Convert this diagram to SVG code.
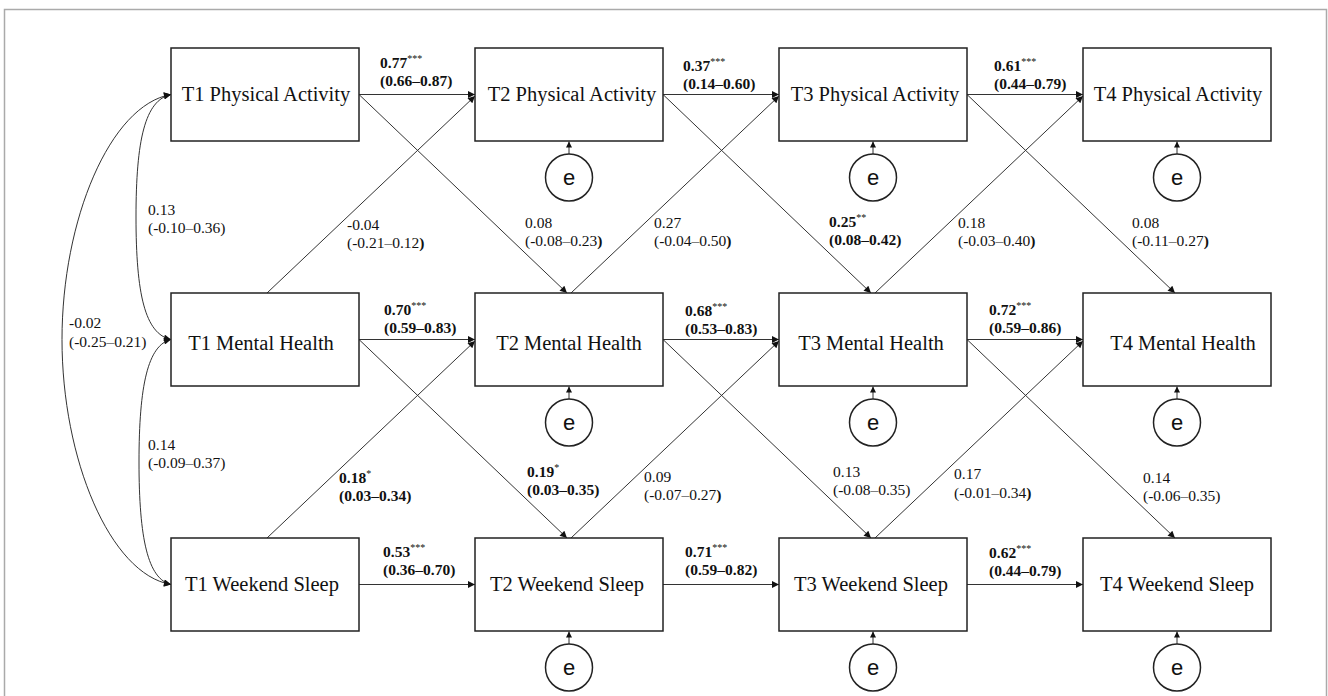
<svg xmlns="http://www.w3.org/2000/svg" width="1328" height="696" viewBox="0 0 1328 696">
<style>
.box{fill:#fff;stroke:#222;stroke-width:1.5}
.bt{font-family:"Liberation Serif","Times New Roman",serif;font-size:20.5px;fill:#111;text-anchor:middle}
.ln{fill:none;stroke:#333;stroke-width:1}
.lb{font-family:"Liberation Serif","Times New Roman",serif;font-size:15.5px;fill:#111}
.b{font-weight:bold}
.st{font-size:10px;font-weight:normal}
.ec{fill:#fff;stroke:#222;stroke-width:1.5}
.et{font-family:"Liberation Sans",Arial,sans-serif;font-size:22px;fill:#111;text-anchor:middle}
</style>
<defs>
<marker id="ah" viewBox="0 0 10 10" refX="10" refY="5" markerWidth="9" markerHeight="7" markerUnits="userSpaceOnUse" orient="auto-start-reverse">
<path d="M0,0 L10,5 L0,10 z" fill="#111"/>
</marker>
<marker id="as" viewBox="0 0 10 10" refX="10" refY="5" markerWidth="7" markerHeight="6" markerUnits="userSpaceOnUse" orient="auto">
<path d="M0,0 L10,5 L0,10 z" fill="#111"/>
</marker>
</defs>
<rect width="1328" height="696" fill="#fff"/>
<path d="M4.5,700 V9.5 H1326.5 V700" fill="none" stroke="#aaa" stroke-width="1.5"/>

<g id="connectors">
<!-- covariances -->
<path class="ln" d="M171,94.5 C145,100 136,140 136,217 C136,294 145,334 171,339.5" marker-start="url(#ah)" marker-end="url(#ah)"/>
<path class="ln" d="M171,339.5 C148,345 139,385 139,462 C139,539 148,579 171,584.5" marker-start="url(#ah)" marker-end="url(#ah)"/>
<path class="ln" d="M171,94.5 C110,105 62,220 62,339.5 C62,459 110,574 171,584.5" marker-start="url(#ah)" marker-end="url(#ah)"/>
<!-- horizontals -->
<path class="ln" d="M359,94.5 H475" marker-end="url(#ah)"/>
<path class="ln" d="M663,94.5 H779" marker-end="url(#ah)"/>
<path class="ln" d="M967,94.5 H1083" marker-end="url(#ah)"/>
<path class="ln" d="M359,339.5 H475" marker-end="url(#ah)"/>
<path class="ln" d="M663,339.5 H779" marker-end="url(#ah)"/>
<path class="ln" d="M967,339.5 H1083" marker-end="url(#ah)"/>
<path class="ln" d="M359,584.5 H475" marker-end="url(#ah)"/>
<path class="ln" d="M663,584.5 H779" marker-end="url(#ah)"/>
<path class="ln" d="M967,584.5 H1083" marker-end="url(#ah)"/>
<!-- cross-lagged -->
<path class="ln" d="M359,94.5 L567,293" marker-end="url(#ah)"/>
<path class="ln" d="M663,94.5 L871,293" marker-end="url(#ah)"/>
<path class="ln" d="M967,94.5 L1175,293" marker-end="url(#ah)"/>
<path class="ln" d="M267,293 L475,96" marker-end="url(#ah)"/>
<path class="ln" d="M571,293 L779,96" marker-end="url(#ah)"/>
<path class="ln" d="M875,293 L1083,96" marker-end="url(#ah)"/>
<path class="ln" d="M359,339.5 L567,538" marker-end="url(#ah)"/>
<path class="ln" d="M663,339.5 L871,538" marker-end="url(#ah)"/>
<path class="ln" d="M967,339.5 L1175,538" marker-end="url(#ah)"/>
<path class="ln" d="M267,538 L475,341" marker-end="url(#ah)"/>
<path class="ln" d="M571,538 L779,341" marker-end="url(#ah)"/>
<path class="ln" d="M875,538 L1083,341" marker-end="url(#ah)"/>
<!-- residual arrows -->
<path class="ln" d="M569,154 V141.5" marker-end="url(#as)"/>
<path class="ln" d="M873,154 V141.5" marker-end="url(#as)"/>
<path class="ln" d="M1177,154 V141.5" marker-end="url(#as)"/>
<path class="ln" d="M569,399 V386.5" marker-end="url(#as)"/>
<path class="ln" d="M873,399 V386.5" marker-end="url(#as)"/>
<path class="ln" d="M1177,399 V386.5" marker-end="url(#as)"/>
<path class="ln" d="M569,644 V631.5" marker-end="url(#as)"/>
<path class="ln" d="M873,644 V631.5" marker-end="url(#as)"/>
<path class="ln" d="M1177,644 V631.5" marker-end="url(#as)"/>
</g>

<g id="labels">
<text class="lb b" x="380" y="68">0.77<tspan class="st" dy="-6">***</tspan></text>
<text class="lb b" x="380" y="86">(0.66–0.87)</text>
<text class="lb b" x="683" y="71">0.37<tspan class="st" dy="-6">***</tspan></text>
<text class="lb b" x="683" y="89">(0.14–0.60)</text>
<text class="lb b" x="994" y="71">0.61<tspan class="st" dy="-6">***</tspan></text>
<text class="lb b" x="994" y="89">(0.44–0.79)</text>

<text class="lb b" x="384" y="315">0.70<tspan class="st" dy="-6">***</tspan></text>
<text class="lb b" x="384" y="333">(0.59–0.83)</text>
<text class="lb b" x="685" y="316">0.68<tspan class="st" dy="-6">***</tspan></text>
<text class="lb b" x="685" y="334">(0.53–0.83)</text>
<text class="lb b" x="989" y="315">0.72<tspan class="st" dy="-6">***</tspan></text>
<text class="lb b" x="989" y="333">(0.59–0.86)</text>

<text class="lb b" x="383" y="557">0.53<tspan class="st" dy="-6">***</tspan></text>
<text class="lb b" x="383" y="575">(0.36–0.70)</text>
<text class="lb b" x="685" y="557">0.71<tspan class="st" dy="-6">***</tspan></text>
<text class="lb b" x="685" y="575">(0.59–0.82)</text>
<text class="lb b" x="989" y="558">0.62<tspan class="st" dy="-6">***</tspan></text>
<text class="lb b" x="989" y="576">(0.44–0.79)</text>

<text class="lb" x="148" y="215">0.13</text>
<text class="lb" x="148" y="233">(-0.10–0.36)</text>
<text class="lb" x="69" y="328">-0.02</text>
<text class="lb" x="69" y="347">(-0.25–0.21)</text>
<text class="lb" x="148" y="450">0.14</text>
<text class="lb" x="148" y="468">(-0.09–0.37)</text>

<text class="lb" x="347" y="230">-0.04</text>
<text class="lb" x="347" y="248">(-0.21–0.12<tspan class="b">)</tspan></text>
<text class="lb" x="525" y="228">0.08</text>
<text class="lb" x="525" y="246">(-0.08–0.23<tspan class="b">)</tspan></text>
<text class="lb" x="654" y="228">0.27</text>
<text class="lb" x="654" y="246">(-0.04–0.50<tspan class="b">)</tspan></text>
<text class="lb b" x="829" y="227">0.25<tspan class="st" dy="-6">**</tspan></text>
<text class="lb b" x="829" y="245">(0.08–0.42)</text>
<text class="lb" x="958" y="228">0.18</text>
<text class="lb" x="958" y="246">(-0.03–0.40<tspan class="b">)</tspan></text>
<text class="lb" x="1132" y="228">0.08</text>
<text class="lb" x="1132" y="246">(-0.11–0.27<tspan class="b">)</tspan></text>

<text class="lb b" x="339" y="483">0.18<tspan class="st" dy="-6">*</tspan></text>
<text class="lb b" x="339" y="501">(0.03–0.34)</text>
<text class="lb b" x="527" y="477">0.19<tspan class="st" dy="-6">*</tspan></text>
<text class="lb b" x="527" y="495">(0.03–0.35)</text>
<text class="lb" x="644" y="482">0.09</text>
<text class="lb" x="644" y="500">(-0.07–0.27<tspan class="b">)</tspan></text>
<text class="lb" x="833" y="477">0.13</text>
<text class="lb" x="833" y="495">(-0.08–0.35)</text>
<text class="lb" x="954" y="479">0.17</text>
<text class="lb" x="954" y="498">(-0.01–0.34<tspan class="b">)</tspan></text>
<text class="lb" x="1143" y="483">0.14</text>
<text class="lb" x="1143" y="501">(-0.06–0.35)</text>
</g>

<g id="n-t1pa"><rect class="box" x="171" y="48" width="188" height="93"/><text class="bt" x="266" y="101">T1 Physical Activity</text></g>
<g id="n-t2pa"><rect class="box" x="475" y="48" width="188" height="93"/><text class="bt" x="572" y="101">T2 Physical Activity</text></g>
<g id="n-t3pa"><rect class="box" x="779" y="48" width="188" height="93"/><text class="bt" x="875" y="101">T3 Physical Activity</text></g>
<g id="n-t4pa"><rect class="box" x="1083" y="48" width="188" height="93"/><text class="bt" x="1178" y="101">T4 Physical Activity</text></g>

<g id="n-t1mh"><rect class="box" x="171" y="293" width="188" height="93"/><text class="bt" x="261" y="350">T1 Mental Health</text></g>
<g id="n-t2mh"><rect class="box" x="475" y="293" width="188" height="93"/><text class="bt" x="569" y="350">T2 Mental Health</text></g>
<g id="n-t3mh"><rect class="box" x="779" y="293" width="188" height="93"/><text class="bt" x="871" y="350">T3 Mental Health</text></g>
<g id="n-t4mh"><rect class="box" x="1083" y="293" width="188" height="93"/><text class="bt" x="1183" y="350">T4 Mental Health</text></g>

<g id="n-t1ws"><rect class="box" x="171" y="538" width="188" height="93"/><text class="bt" x="262" y="591">T1 Weekend Sleep</text></g>
<g id="n-t2ws"><rect class="box" x="475" y="538" width="188" height="93"/><text class="bt" x="567" y="591">T2 Weekend Sleep</text></g>
<g id="n-t3ws"><rect class="box" x="779" y="538" width="188" height="93"/><text class="bt" x="871" y="591">T3 Weekend Sleep</text></g>
<g id="n-t4ws"><rect class="box" x="1083" y="538" width="188" height="93"/><text class="bt" x="1177" y="591">T4 Weekend Sleep</text></g>

<g id="e-t2pa"><circle class="ec" cx="569" cy="177.5" r="23.5"/><text class="et" x="569" y="185">e</text></g>
<g id="e-t3pa"><circle class="ec" cx="873" cy="177.5" r="23.5"/><text class="et" x="873" y="185">e</text></g>
<g id="e-t4pa"><circle class="ec" cx="1177" cy="177.5" r="23.5"/><text class="et" x="1177" y="185">e</text></g>
<g id="e-t2mh"><circle class="ec" cx="569" cy="422.5" r="23.5"/><text class="et" x="569" y="430">e</text></g>
<g id="e-t3mh"><circle class="ec" cx="873" cy="422.5" r="23.5"/><text class="et" x="873" y="430">e</text></g>
<g id="e-t4mh"><circle class="ec" cx="1177" cy="422.5" r="23.5"/><text class="et" x="1177" y="430">e</text></g>
<g id="e-t2ws"><circle class="ec" cx="569" cy="667.5" r="23.5"/><text class="et" x="569" y="675">e</text></g>
<g id="e-t3ws"><circle class="ec" cx="873" cy="667.5" r="23.5"/><text class="et" x="873" y="675">e</text></g>
<g id="e-t4ws"><circle class="ec" cx="1177" cy="667.5" r="23.5"/><text class="et" x="1177" y="675">e</text></g>
</svg>
